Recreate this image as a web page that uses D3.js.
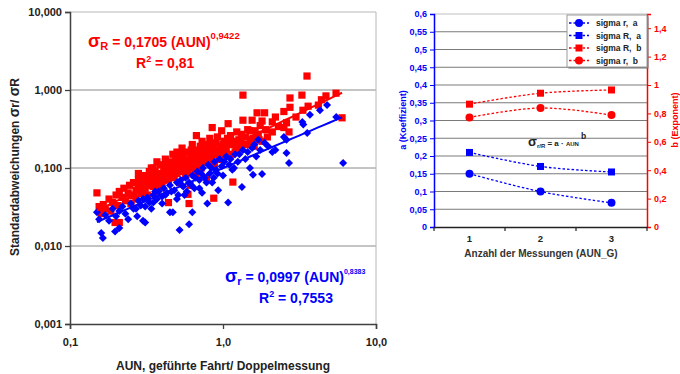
<!DOCTYPE html>
<html>
<head>
<meta charset="utf-8">
<script src="https://cdn.jsdelivr.net/npm/d3@7/dist/d3.min.js"></script>
<style>
  body { margin: 0; background: #fff; }
  svg { display: block; font-family: "Liberation Sans", Arial, sans-serif; font-weight: bold; }
</style>
</head>
<body>
<div id="chart"></div>
<script>
// ---- left chart: sigma vs AUN (log-log) ----
// [AUN, sigma R]
const sigmaRPoints = [
  [0.15,0.048],[0.155,0.032],[0.16,0.026],[0.165,0.034],[0.17,0.03],[0.18,0.04],[0.185,0.028],[0.19,0.036],
  [0.197,0.020],[0.21,0.020],[0.2,0.045],[0.205,0.033],[0.21,0.05],[0.22,0.042],[0.225,0.055],[0.23,0.038],
  [0.24,0.048],[0.245,0.06],[0.25,0.044],[0.25,0.035],[0.26,0.065],[0.27,0.052],[0.27,0.04],[0.28,0.07],
  [0.28,0.058],[0.29,0.047],[0.3,0.08],[0.3,0.062],[0.31,0.055],[0.32,0.072],[0.32,0.045],[0.33,0.09],
  [0.34,0.066],[0.35,0.058],[0.35,0.1],[0.36,0.078],[0.37,0.05],[0.38,0.085],[0.38,0.068],[0.39,0.11],
  [0.4,0.075],[0.4,0.06],[0.41,0.095],[0.42,0.13],[0.43,0.082],[0.44,0.036],[0.44,0.07],[0.45,0.105],
  [0.46,0.09],[0.47,0.15],[0.48,0.075],[0.49,0.12],[0.5,0.1],[0.5,0.085],[0.51,0.14],[0.52,0.065],
  [0.53,0.11],[0.54,0.18],[0.55,0.095],[0.56,0.125],[0.57,0.08],[0.58,0.16],[0.59,0.046],[0.6,0.035],
  [0.6,0.11],[0.61,0.06],[0.62,0.14],[0.63,0.2],[0.64,0.1],[0.65,0.13],[0.66,0.085],[0.67,0.26],
  [0.68,0.17],[0.69,0.12],[0.7,0.15],[0.72,0.1],[0.73,0.22],[0.74,0.135],[0.76,0.18],[0.78,0.075],
  [0.8,0.16],[0.8,0.12],[0.82,0.24],[0.84,0.14],[0.85,0.33],[0.86,0.2],[0.87,0.041],[0.88,0.11],
  [0.9,0.17],[0.92,0.25],[0.94,0.13],[0.96,0.19],[0.98,0.3],[1.0,0.15],[1.02,0.22],[1.05,0.18],
  [1.08,0.37],[1.1,0.14],[1.12,0.26],[1.16,0.066],[1.16,0.2],[1.2,0.16],[1.23,0.29],[1.27,0.23],
  [1.3,0.18],[1.35,0.41],[1.35,0.86],[1.4,0.25],[1.45,0.2],[1.5,0.3],[1.55,0.41],[1.57,0.24],
  [1.6,0.19],[1.67,0.51],[1.7,0.27],[1.75,0.35],[1.8,0.22],[1.87,0.51],[1.9,0.31],[1.95,0.25],
  [2.1,0.39],[2.1,0.29],[2.2,0.45],[2.3,0.34],[2.5,0.53],[2.5,0.33],[2.6,0.38],[2.7,0.29],
  [2.74,0.79],[2.74,0.6],[3.0,0.45],[3.28,0.86],[3.33,0.55],[3.54,1.51],[3.6,0.62],[4.2,0.64],
  [4.4,0.75],[4.71,0.84],[5.48,0.91],[6.0,0.44],
  [0.26,0.045],[0.28,0.085],[0.29,0.062],[0.3,0.05],[0.31,0.07],[0.33,0.06],[0.33,0.075],[0.34,0.1],
  [0.36,0.065],[0.36,0.09],[0.37,0.12],[0.38,0.055],[0.39,0.08],[0.41,0.07],[0.42,0.1],[0.43,0.115],
  [0.44,0.09],[0.46,0.12],[0.47,0.08],[0.48,0.1],[0.49,0.14],[0.5,0.16],[0.52,0.09],[0.53,0.13],
  [0.55,0.15],[0.56,0.1],[0.58,0.12],[0.59,0.09],[0.61,0.13],[0.62,0.17],[0.64,0.12],[0.66,0.15],
  [0.67,0.11],[0.7,0.13],[0.71,0.19],[0.73,0.16],[0.75,0.12],[0.77,0.14],[0.78,0.2],[0.82,0.17],
  [0.84,0.12],[0.88,0.15],[0.9,0.21],[0.94,0.16],[0.97,0.13],[1.0,0.2],[1.03,0.17],[1.07,0.24],
  [1.1,0.2],[1.14,0.15],[1.18,0.22],[1.22,0.18],[1.28,0.2],[1.32,0.27],[1.38,0.2],[1.45,0.31],
  [1.5,0.22],[1.62,0.3],[1.72,0.23],[1.8,0.4]
];
// [AUN, sigma r]
const sigmaRSmallPoints = [
  [0.15,0.027],[0.155,0.022],[0.16,0.0147],[0.164,0.0127],[0.17,0.025],[0.18,0.021],[0.19,0.03],[0.197,0.0153],
  [0.2,0.024],[0.21,0.017],[0.21,0.028],[0.22,0.032],[0.23,0.026],[0.24,0.022],[0.25,0.035],[0.26,0.03],
  [0.275,0.024],[0.28,0.038],[0.29,0.033],[0.3,0.021],[0.31,0.02],[0.31,0.032],[0.32,0.042],[0.33,0.036],
  [0.35,0.036],[0.35,0.045],[0.37,0.04],[0.38,0.05],[0.4,0.043],[0.41,0.055],[0.43,0.048],[0.45,0.027],
  [0.45,0.06],[0.47,0.027],[0.48,0.052],[0.5,0.065],[0.51,0.045],[0.52,0.016],[0.53,0.07],[0.55,0.058],
  [0.57,0.075],[0.58,0.05],[0.6,0.019],[0.6,0.065],[0.63,0.027],[0.63,0.08],[0.65,0.055],[0.68,0.09],
  [0.7,0.07],[0.73,0.048],[0.74,0.1],[0.76,0.075],[0.79,0.035],[0.8,0.11],[0.82,0.085],[0.85,0.065],
  [0.88,0.12],[0.9,0.095],[0.93,0.052],[0.95,0.13],[0.98,0.105],[1.0,0.08],[1.05,0.14],[1.08,0.036],
  [1.1,0.11],[1.15,0.095],[1.2,0.15],[1.25,0.12],[1.33,0.057],[1.35,0.17],[1.4,0.13],[1.5,0.1],
  [1.55,0.18],[1.57,0.082],[1.6,0.2],[1.65,0.14],[1.7,0.23],[1.8,0.084],[1.87,0.21],[1.97,0.19],
  [2.1,0.16],[2.2,0.17],[2.5,0.25],[2.6,0.23],[2.6,0.156],[2.7,0.116],[3.3,0.39],[3.35,0.36],
  [3.55,0.28],[3.7,0.48],[4.3,0.55],[4.79,0.64],[5.5,0.45],[6.1,0.116],
  [0.27,0.03],[0.3,0.04],[0.34,0.03],[0.36,0.05],[0.4,0.035],[0.42,0.045],[0.46,0.05],[0.5,0.04],
  [0.54,0.06],[0.56,0.045],[0.62,0.06],[0.66,0.075],[0.7,0.055],[0.72,0.085],[0.78,0.065],[0.84,0.1],
  [0.87,0.075],[0.92,0.085],[1.02,0.12],[1.12,0.13],[1.18,0.1],[1.28,0.15],[1.45,0.16],[1.75,0.17]
];
const fitSigmaR = [0.1705, 0.9422];   // a, b
const fitSigmaRSmall = [0.0997, 0.8383];
const fitRange = [0.15, 6];
const xTicksLeft = [0.1, 1, 10];
const yTicksLeft = [0.001, 0.01, 0.1, 1, 10];

// ---- right chart: coefficients per number of measurements ----
const messungen = ['1', '2', '3'];
const sigmaRSmallA = [0.15, 0.0997, 0.068];
const sigmaRA = [0.21, 0.1705, 0.155];
const sigmaRB = [0.865, 0.9422, 0.965];
const sigmaRSmallB = [0.772, 0.8383, 0.788];
const aTicks = [0, 0.05, 0.1, 0.15, 0.2, 0.25, 0.3, 0.35, 0.4, 0.45, 0.5, 0.55, 0.6];
const bTicks = [0, 0.2, 0.4, 0.6, 0.8, 1, 1.2, 1.4];

const RED = '#ff0000';
const BLUE = '#0000ff';

const de = d3.formatLocale({ decimal: ',', thousands: '.', grouping: [3], currency: ['', '€'] });
const fmtPlain = (v) => String(+v.toFixed(2)).replace('.', ',');

const svg = d3.select('#chart').append('svg').attr('width', 680).attr('height', 374);

// ================= left chart =================
const x = d3.scaleLog().domain([0.1, 10]).range([70, 376]);
const y = d3.scaleLog().domain([0.001, 10]).range([324, 12]);

// gridlines + frame
svg.append('g')
  .selectAll('line')
  .data(yTicksLeft.filter((d) => d > 0.001))
  .join('line')
  .attr('x1', 70).attr('x2', 376)
  .attr('y1', (d) => y(d)).attr('y2', (d) => y(d))
  .attr('stroke', (d) => (d === 10 ? '#b8b8b8' : '#8a8a8a'))
  .attr('stroke-width', 1);
svg.append('line').attr('x1', 376).attr('x2', 376).attr('y1', 12).attr('y2', 324)
  .attr('stroke', '#b8b8b8');

const yAxisL = svg.append('g')
  .attr('transform', 'translate(70,0)')
  .call(d3.axisLeft(y).tickValues(yTicksLeft).tickSize(5).tickPadding(3).tickFormat(de.format('.3f')));
const xAxisL = svg.append('g')
  .attr('transform', 'translate(0,324)')
  .call(d3.axisBottom(x).tickValues(xTicksLeft).tickSize(5).tickPadding(9).tickFormat(de.format('.1f')));
[yAxisL, xAxisL].forEach((g) => {
  g.select('.domain').attr('stroke', '#404040').attr('stroke-width', 1.5);
  g.selectAll('.tick line').attr('stroke', '#404040').attr('stroke-width', 1.3);
  g.selectAll('text').attr('font-size', 11).attr('font-weight', 'bold').attr('fill', '#222')
    .attr('font-family', '"Liberation Sans", Arial, sans-serif');
});

// points
svg.append('g')
  .selectAll('path')
  .data(sigmaRPoints)
  .join('path')
  .attr('d', d3.symbol(d3.symbolSquare, 52))
  .attr('transform', (d) => `translate(${x(d[0])},${y(d[1])})`)
  .attr('fill', RED);
svg.append('g')
  .selectAll('path')
  .data(sigmaRSmallPoints)
  .join('path')
  .attr('d', d3.symbol(d3.symbolSquare, 32))
  .attr('transform', (d) => `translate(${x(d[0])},${y(d[1])}) rotate(45)`)
  .attr('fill', BLUE);

// power-law trend lines
const trend = (fit) => {
  const xs = d3.range(0, 41).map((i) => fitRange[0] * Math.pow(fitRange[1] / fitRange[0], i / 40));
  return xs.map((v) => [v, fit[0] * Math.pow(v, fit[1])]);
};
const lineLog = d3.line().x((d) => x(d[0])).y((d) => y(d[1]));
svg.append('path').attr('d', lineLog(trend(fitSigmaR))).attr('fill', 'none').attr('stroke', RED).attr('stroke-width', 2);
svg.append('path').attr('d', lineLog(trend(fitSigmaRSmall))).attr('fill', 'none').attr('stroke', BLUE).attr('stroke-width', 2);

// equations
function equation(g, opts) {
  const t = g.append('text').attr('x', opts.x).attr('y', opts.y).attr('fill', opts.color).attr('font-size', 14);
  t.append('tspan').attr('font-size', 18).text('σ');
  t.append('tspan').attr('font-size', 11).attr('dy', 3).text(opts.sub);
  t.append('tspan').attr('dy', -3).text(' = ' + opts.coef + ' (AUN)');
  t.append('tspan').attr('font-size', opts.supSize).attr('dy', -8).text(opts.exp);
  const r = g.append('text').attr('x', opts.rx).attr('y', opts.y + 21).attr('fill', opts.color).attr('font-size', 14);
  r.append('tspan').text('R');
  r.append('tspan').attr('font-size', 9).attr('dy', -6).text('2');
  r.append('tspan').attr('dy', 6).text(' = ' + opts.r2);
}
equation(svg, { x: 88, y: 47, rx: 136, color: RED, sub: 'R', coef: '0,1705', exp: '0,9422', supSize: 9.5, r2: '0,81' });
equation(svg, { x: 225, y: 282, rx: 259, color: BLUE, sub: 'r', coef: '0,0997', exp: '0,8383', supSize: 7, r2: '0,7553' });

// axis titles
const yt = svg.append('text')
  .attr('transform', 'translate(19,167) rotate(-90)')
  .attr('text-anchor', 'middle').attr('font-size', 12).attr('fill', '#222');
yt.append('tspan').text('Standardabweichungen ');
yt.append('tspan').attr('font-size', 14).text('σ');
yt.append('tspan').text('r/ ');
yt.append('tspan').attr('font-size', 14).text('σ');
yt.append('tspan').text('R');
svg.append('text')
  .attr('x', 223).attr('y', 370)
  .attr('text-anchor', 'middle').attr('font-size', 12).attr('fill', '#222')
  .text('AUN, geführte Fahrt/ Doppelmessung');

// ================= right chart =================
const xc = d3.scaleBand().domain(messungen).range([434, 647]).padding(0);
const ya = d3.scaleLinear().domain([0, 0.6]).range([227, 14]);
const yb = d3.scaleLinear().domain([0, 1.5]).range([227, 14]);
const cx = (i) => xc(messungen[i]) + xc.bandwidth() / 2;

svg.append('g')
  .selectAll('line')
  .data(aTicks.filter((d) => d > 0))
  .join('line')
  .attr('x1', 434).attr('x2', 647)
  .attr('y1', (d) => ya(d)).attr('y2', (d) => ya(d))
  .attr('stroke', (d) => (d >= 0.6 ? '#c0c0c0' : '#7a7a7a'))
  .attr('stroke-width', 1);

const aAxis = svg.append('g').attr('transform', 'translate(434,0)')
  .call(d3.axisLeft(ya).tickValues(aTicks).tickSize(4).tickPadding(3).tickFormat(fmtPlain));
const bAxis = svg.append('g').attr('transform', 'translate(647,0)')
  .call(d3.axisRight(yb).tickValues(bTicks).tickSize(4).tickPadding(3).tickFormat(fmtPlain));
const cAxis = svg.append('g').attr('transform', 'translate(0,227)')
  .call(d3.axisBottom(xc).tickSize(0).tickPadding(8));
[[aAxis, BLUE], [bAxis, RED]].forEach(([g, c]) => {
  g.select('.domain').attr('stroke', c).attr('stroke-width', 1.5);
  g.selectAll('.tick line').attr('stroke', c);
  g.selectAll('text').attr('fill', c).attr('font-size', 9).attr('font-weight', 'bold')
    .attr('font-family', '"Liberation Sans", Arial, sans-serif');
});
cAxis.select('.domain').attr('stroke', '#222').attr('stroke-width', 1.3);
cAxis.selectAll('text').attr('fill', '#222').attr('font-size', 9.5).attr('font-weight', 'bold')
  .attr('font-family', '"Liberation Sans", Arial, sans-serif');
// category separators on the x axis
svg.append('g')
  .selectAll('line')
  .data(messungen.concat(['end']))
  .join('line')
  .attr('x1', (d, i) => 434 + i * xc.bandwidth()).attr('x2', (d, i) => 434 + i * xc.bandwidth())
  .attr('y1', 227).attr('y2', 231)
  .attr('stroke', '#222').attr('stroke-width', 1.2);

const series = [
  { name: 'sigma r,  a', values: sigmaRSmallA, scale: ya, color: BLUE, marker: 'circle' },
  { name: 'sigma R,  a', values: sigmaRA, scale: ya, color: BLUE, marker: 'square' },
  { name: 'sigma R,  b', values: sigmaRB, scale: yb, color: RED, marker: 'square' },
  { name: 'sigma r,  b', values: sigmaRSmallB, scale: yb, color: RED, marker: 'circle' },
];
const marker = (g, s, px, py) => {
  if (s.marker === 'circle') {
    g.append('circle').attr('cx', px).attr('cy', py).attr('r', 4).attr('fill', s.color);
  } else {
    g.append('rect').attr('x', px - 3.5).attr('y', py - 3.5).attr('width', 7).attr('height', 7).attr('fill', s.color);
  }
};
series.forEach((s) => {
  const g = svg.append('g');
  const line = d3.line().curve(d3.curveCatmullRom.alpha(0.5)).x((d, i) => cx(i)).y((d) => s.scale(d));
  g.append('path').attr('d', line(s.values)).attr('fill', 'none')
    .attr('stroke', s.color).attr('stroke-width', 1.3).attr('stroke-dasharray', '2.5,2');
  s.values.forEach((v, i) => marker(g, s, cx(i), s.scale(v)));
});

// formula label
const f = svg.append('text').attr('x', 528).attr('y', 146).attr('fill', '#222').attr('font-size', 8);
f.append('tspan').attr('font-size', 13).text('σ');
f.append('tspan').attr('font-size', 6).attr('dy', 2).text('r/R');
f.append('tspan').attr('dy', -2).text(' = a · ');
f.append('tspan').attr('font-size', 6).text('AUN');
f.append('tspan').attr('font-size', 8.5).attr('dy', -7).attr('dx', 2).text('b');

// legend
const lg = svg.append('g').attr('transform', 'translate(567,15)');
lg.append('rect').attr('x', 1.5).attr('y', 1.5).attr('width', 80).attr('height', 52).attr('fill', '#707070');
lg.append('rect').attr('width', 80).attr('height', 52).attr('fill', '#fff').attr('stroke', '#9a9a9a');
series.forEach((s, i) => {
  const ry = 8 + i * 12.5;
  lg.append('line').attr('x1', 2).attr('x2', 22).attr('y1', ry).attr('y2', ry)
    .attr('stroke', s.color).attr('stroke-width', 1.3).attr('stroke-dasharray', '2.5,2');
  marker(lg, s, 12, ry);
  lg.append('text').attr('x', 29).attr('y', ry + 3).attr('font-size', 8.5).attr('fill', '#222')
    .style('white-space', 'pre').text(s.name);
});

// axis titles
svg.append('text')
  .attr('transform', 'translate(406,120) rotate(-90)')
  .attr('text-anchor', 'middle').attr('font-size', 9).attr('fill', BLUE)
  .text('a (Koeffizient)');
svg.append('text')
  .attr('transform', 'translate(678,120) rotate(-90)')
  .attr('text-anchor', 'middle').attr('font-size', 9).attr('fill', RED)
  .text('b (Exponent)');
svg.append('text')
  .attr('x', 541).attr('y', 257)
  .attr('text-anchor', 'middle').attr('font-size', 10).attr('fill', '#333')
  .text('Anzahl der Messungen (AUN_G)');
</script>
</body>
</html>
